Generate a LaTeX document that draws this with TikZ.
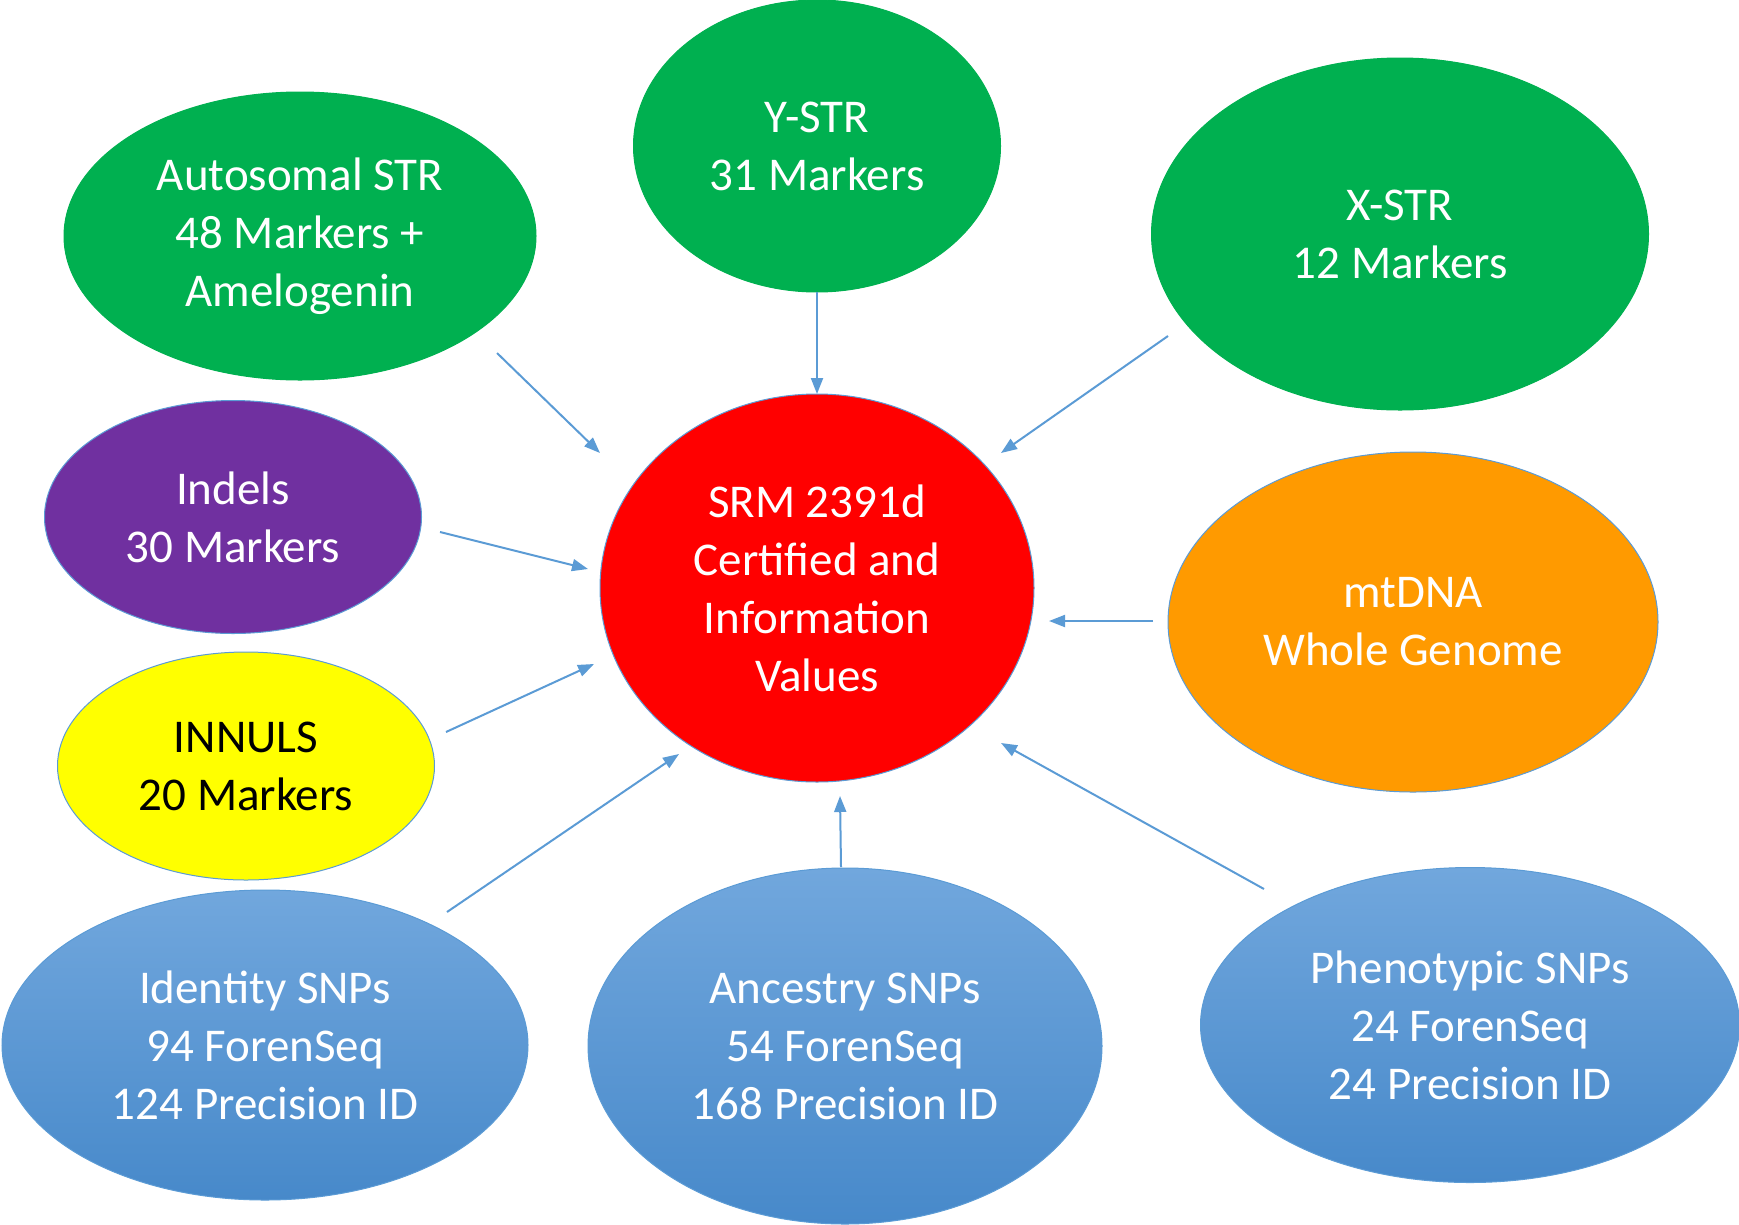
\documentclass[tikz,border=0pt]{standalone}
\usepackage{fontspec}
\setmainfont{Carlito}
\usetikzlibrary{shapes.geometric,arrows.meta}
\definecolor{grn}{HTML}{00B050}
\definecolor{purp}{HTML}{7030A0}
\definecolor{yel}{HTML}{FFFF00}
\definecolor{orng}{HTML}{FF9A00}
\definecolor{rd}{HTML}{FF0000}
\definecolor{edge}{HTML}{5B9BD5}
\definecolor{bltop}{HTML}{71A7DD}
\definecolor{blbot}{HTML}{4789CA}
\tikzset{
  bub/.style={ellipse, inner sep=0pt, align=center, text=white,
    font=\fontsize{47}{58}\selectfont, draw=edge, line width=1pt},
  grnbub/.style={bub, fill=grn, draw=grn},
  bluebub/.style={bub, top color=bltop, bottom color=blbot, draw=edge},
  conn/.style={draw=edge, line width=2pt, -{Triangle[length=16pt,width=12pt]}}
}
\begin{document}
\begin{tikzpicture}[x=1pt,y=-1pt]
\useasboundingbox (0,0) rectangle (1739,1224);
\node[grnbub, minimum width=472pt, minimum height=288pt] (auto) at (300,236) {Autosomal STR\\48 Markers +\\Amelogenin};
\node[grnbub, minimum width=367pt, minimum height=292pt] (ystr) at (817,146) {Y-STR\\31 Markers};
\node[grnbub, minimum width=497pt, minimum height=352pt] (xstr) at (1400,234) {X-STR\\12 Markers};
\node[bub, fill=purp, minimum width=377pt, minimum height=233pt] (indel) at (233,517) {Indels\\30 Markers};
\node[bub, fill=yel, text=black, minimum width=377pt, minimum height=228pt] (innul) at (246,766) {INNULS\\20 Markers};
\node[bub, fill=rd, minimum width=434pt, minimum height=388pt] (srm) at (817,588) {SRM 2391d\\Certified and\\Information\\Values};
\node[bub, fill=orng, minimum width=490pt, minimum height=340pt] (mt) at (1413,622) {mtDNA\\Whole Genome};
\node[bluebub, minimum width=526pt, minimum height=310pt] (ident) at (265,1045) {Identity SNPs\\94 ForenSeq\\124 Precision ID};
\node[bluebub, minimum width=514pt, minimum height=356pt] (anc) at (845,1046) {Ancestry SNPs\\54 ForenSeq\\168 Precision ID};
\node[bluebub, minimum width=539pt, minimum height=315pt] (phen) at (1470,1025) {Phenotypic SNPs\\24 ForenSeq\\24 Precision ID};
% connector ends
\coordinate (a1s) at (497,353);  \coordinate (a1e) at (600,453);
\coordinate (a2s) at (817,292);  \coordinate (a2e) at (817,394);
\coordinate (a3s) at (1168,336); \coordinate (a3e) at (1001,453);
\coordinate (a4s) at (440,532);  \coordinate (a4e) at (588,569);
\coordinate (a5s) at (446,732);  \coordinate (a5e) at (594,664);
\coordinate (a6s) at (1153,621); \coordinate (a6e) at (1049,621);
\coordinate (a7s) at (447,912);  \coordinate (a7e) at (679,754);
\coordinate (a8s) at (841,867);  \coordinate (a8e) at (840,796);
\coordinate (a9s) at (1264,889); \coordinate (a9e) at (1001,743);
\draw[conn] (a1s) -- (a1e);
\draw[conn] (a2s) -- (a2e);
\draw[conn] (a3s) -- (a3e);
\draw[conn] (a4s) -- (a4e);
\draw[conn] (a5s) -- (a5e);
\draw[conn] (a6s) -- (a6e);
\draw[conn] (a7s) -- (a7e);
\draw[conn] (a8s) -- (a8e);
\draw[conn] (a9s) -- (a9e);
\end{tikzpicture}
\end{document}
